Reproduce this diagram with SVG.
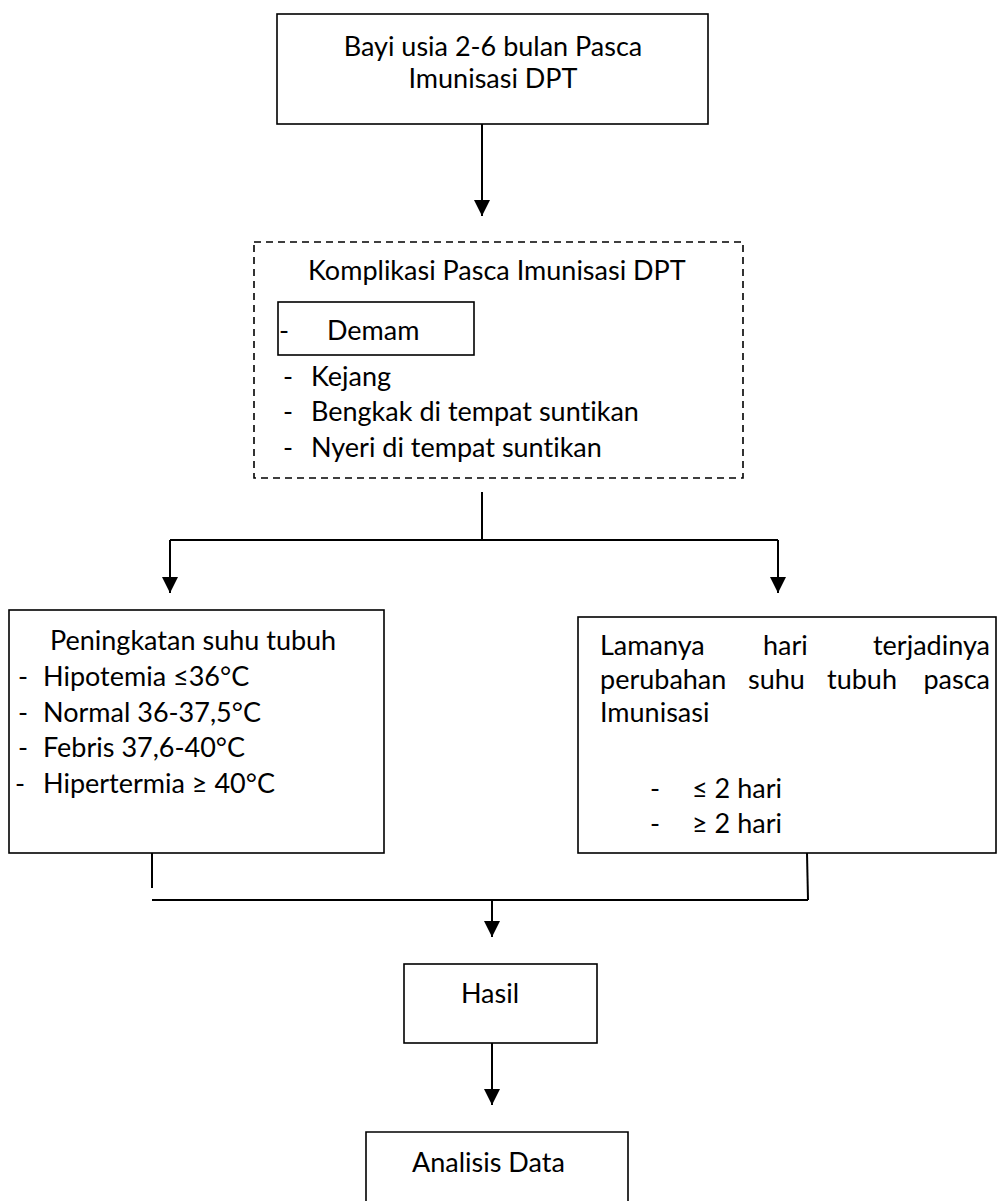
<svg xmlns="http://www.w3.org/2000/svg" width="997" height="1201" viewBox="0 0 997 1201">
<defs>
<style>
.box{fill:#fff;stroke:#000;stroke-width:1.6}
.dash{fill:none;stroke:#000;stroke-width:1.6;stroke-dasharray:7 5}
.con{fill:none;stroke:#000;stroke-width:2}
.t{font-family:Lato,"Open Sans","Liberation Sans",sans-serif;font-size:27px;fill:#000;font-variant-ligatures:none}
.c{text-anchor:middle}
.e{text-anchor:end}
</style>
<marker id="ah" markerUnits="userSpaceOnUse" markerWidth="18" markerHeight="16" refX="16" refY="8" orient="auto" viewBox="0 0 18 16">
<path d="M0,0 L16,8 L0,16 Z" fill="#000"/>
</marker>
</defs>
<g id="connectors">
<line class="con" x1="482" y1="124" x2="482" y2="216" marker-end="url(#ah)"/>
<line class="con" x1="482" y1="492" x2="482" y2="540"/>
<line class="con" x1="170" y1="540" x2="778" y2="540"/>
<line class="con" x1="170" y1="540" x2="170" y2="593" marker-end="url(#ah)"/>
<line class="con" x1="778" y1="540" x2="778" y2="593" marker-end="url(#ah)"/>
<line class="con" x1="152" y1="853" x2="152" y2="888"/>
<line class="con" x1="807" y1="853" x2="808" y2="900"/>
<line class="con" x1="152" y1="900" x2="808" y2="900"/>
<line class="con" x1="492" y1="900" x2="492" y2="937" marker-end="url(#ah)"/>
<line class="con" x1="492" y1="1043" x2="492" y2="1105" marker-end="url(#ah)"/>
</g>
<g id="node-bayi">
<rect class="box" x="277" y="14" width="431" height="110"/>
<text class="t c" x="493" y="56">Bayi usia 2-6 bulan Pasca</text>
<text class="t c" x="493" y="88">Imunisasi DPT</text>
</g>
<g id="node-komplikasi">
<rect class="dash" x="254" y="242" width="489" height="236"/>
<text class="t" x="308" y="280">Komplikasi Pasca Imunisasi DPT</text>
<rect class="box" x="278" y="302" width="196" height="53"/>
<text class="t" x="279" y="340">-</text>
<text class="t" x="327" y="340">Demam</text>
<text class="t" x="283" y="386">-</text>
<text class="t" x="311" y="386">Kejang</text>
<text class="t" x="283" y="421">-</text>
<text class="t" x="311" y="421">Bengkak di tempat suntikan</text>
<text class="t" x="283" y="457">-</text>
<text class="t" x="311" y="457">Nyeri di tempat suntikan</text>
</g>
<g id="node-suhu">
<rect class="box" x="9" y="610" width="375" height="243"/>
<text class="t" x="50" y="650">Peningkatan suhu tubuh</text>
<text class="t" x="18" y="686">-</text>
<text class="t" x="43" y="686">Hipotemia ≤36°C</text>
<text class="t" x="18" y="722">-</text>
<text class="t" x="43" y="722">Normal 36-37,5°C</text>
<text class="t" x="18" y="757">-</text>
<text class="t" x="43" y="757">Febris 37,6-40°C</text>
<text class="t" x="15" y="793">-</text>
<text class="t" x="43" y="793">Hipertermia ≥ 40°C</text>
</g>
<g id="node-lamanya">
<rect class="box" x="578" y="617" width="418" height="236"/>
<text class="t" x="600" y="655">Lamanya</text>
<text class="t" x="763" y="655">hari</text>
<text class="t e" x="990" y="655">terjadinya</text>
<text class="t" x="600" y="689">perubahan</text>
<text class="t" x="748" y="689">suhu</text>
<text class="t" x="827" y="689">tubuh</text>
<text class="t e" x="990" y="689">pasca</text>
<text class="t" x="600" y="722">Imunisasi</text>
<text class="t" x="650" y="798">-</text>
<text class="t" x="692" y="798">≤ 2 hari</text>
<text class="t" x="650" y="833">-</text>
<text class="t" x="692" y="833">≥ 2 hari</text>
</g>
<g id="node-hasil">
<rect class="box" x="404" y="964" width="193" height="79"/>
<text class="t c" x="490" y="1003">Hasil</text>
</g>
<g id="node-analisis">
<path class="box" d="M366,1202 V1132 H628 V1202"/>
<text class="t" x="412" y="1172">Analisis Data</text>
</g>
</svg>
